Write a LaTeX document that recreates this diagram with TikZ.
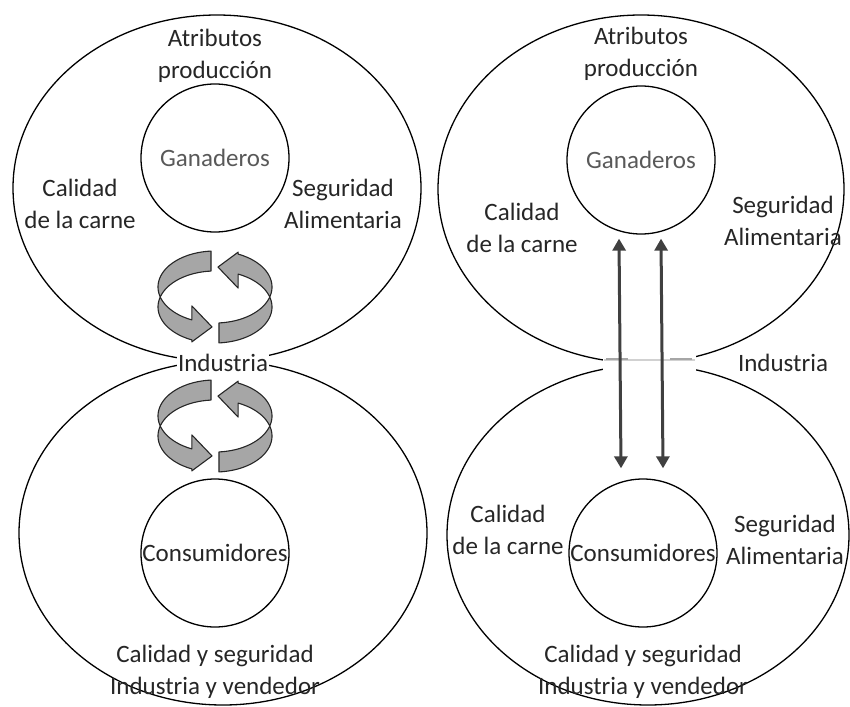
\documentclass[tikz,border=0pt]{standalone}
\usepackage{fontspec}
\setmainfont{Carlito}
\usetikzlibrary{shapes.geometric,arrows.meta,calc}
\newcommand{\ringarrows}[2]{%
 \begin{scope}[shift={(#1,#2)}]
  \draw[band] plot[domain=266:114, samples=50] ({57*cos(\x)},{36*sin(\x)})
     -- ({57*cos(114)},{36*sin(114)-14})
     -- ({57*cos(93)},{36*sin(93)+4})
     -- ({57*cos(114)},{36*sin(114)+22})
     -- ({57*cos(114)},{36*sin(114)+20})
     -- plot[domain=114:266, samples=50] ({57*cos(\x)},{36*sin(\x)+20})
     -- cycle;
  \draw[band] plot[domain=86:-66, samples=50] ({57*cos(\x)},{36*sin(\x)+20})
     -- ({57*cos(-66)},{36*sin(-66)+34})
     -- ({57*cos(-87)},{36*sin(-87)+16})
     -- ({57*cos(-66)},{36*sin(-66)-2})
     -- ({57*cos(-66)},{36*sin(-66)})
     -- plot[domain=-66:86, samples=50] ({57*cos(\x)},{36*sin(\x)})
     -- cycle;
 \end{scope}}
\begin{document}
\begin{tikzpicture}[x=1pt,y=-1pt,
  lbl/.style={font=\fontsize{25}{32}\selectfont, align=center, inner sep=0pt, text=black!85},
  outer/.style={draw, ellipse, line width=1.3pt, inner sep=0pt},
  inner/.style={draw, circle, line width=1.3pt, minimum size=148pt, inner sep=0pt},
  band/.style={draw=black!85, line width=1.1pt, fill=black!35, line join=round},
  dbl/.style={line width=3pt, draw=black!75, {Triangle[length=12pt,width=13pt]}-{Triangle[length=12pt,width=13pt]}}
]
\useasboundingbox (0,0) rectangle (850,706);
% ---------- left panel ----------
\node[outer, minimum width=408pt, minimum height=346pt] (eLT) at (217,188) {};
\node[outer, minimum width=408pt, minimum height=344pt] (eLB) at (223,533) {};
\node[inner] (gL) at (215,158) {};
\node[inner] (cL) at (215,553) {};
\node[lbl] (aL) at (215,56) {Atributos\\producción};
\node[lbl, text=black!65] (gLt) at (gL) {Ganaderos};
\node[lbl] (qL) at (80,204) {Calidad\\de la carne};
\node[lbl] (sL) at (343,204) {Seguridad\\Alimentaria};
\node[lbl] (cLt) at (cL) {Consumidores};
\node[lbl] (vL) at (215,672) {Calidad y seguridad\\Industria y vendedor};
\ringarrows{215}{287}
\ringarrows{215}{416}
\node[lbl, fill=white, inner sep=1pt] (iL) at (223,363) {Industria};
% ---------- right panel ----------
\node[outer, minimum width=406pt, minimum height=348pt] (eRT) at (641,189) {};
\node[outer, minimum width=402pt, minimum height=340pt] (eRB) at (648,535) {};
\fill[white] (603,338) rectangle (696,388);
\draw[black!18, line width=1.2pt] (604,360) -- (695,360);
\draw[black!35, line width=1.2pt] (606,359) -- (628,359) (670,359) -- (692,359);
\node[inner] (gR) at (641,160) {};
\node[inner] (cR) at (643,553) {};
\node[lbl] (aR) at (641,54) {Atributos\\producción};
\node[lbl, text=black!65] (gRt) at (gR) {Ganaderos};
\node[lbl] (qR) at (522,228) {Calidad\\de la carne};
\node[lbl] (sR) at (783,221) {Seguridad\\Alimentaria};
\node[lbl] (cRt) at (cR) {Consumidores};
\node[lbl] (qR2) at (508,530) {Calidad\\de la carne};
\node[lbl] (sR2) at (785,540) {Seguridad\\Alimentaria};
\node[lbl] (vR) at (643,672) {Calidad y seguridad\\Industria y vendedor};
\node[lbl] (iR) at (783,363) {Industria};
\draw[dbl] ([xshift=-22pt,yshift=-4pt]gR.south) -- ([xshift=-22pt,yshift=10pt]cR.north);
\draw[dbl] ([xshift=20pt,yshift=-4pt]gR.south) -- ([xshift=20pt,yshift=10pt]cR.north);
\end{tikzpicture}
\end{document}
